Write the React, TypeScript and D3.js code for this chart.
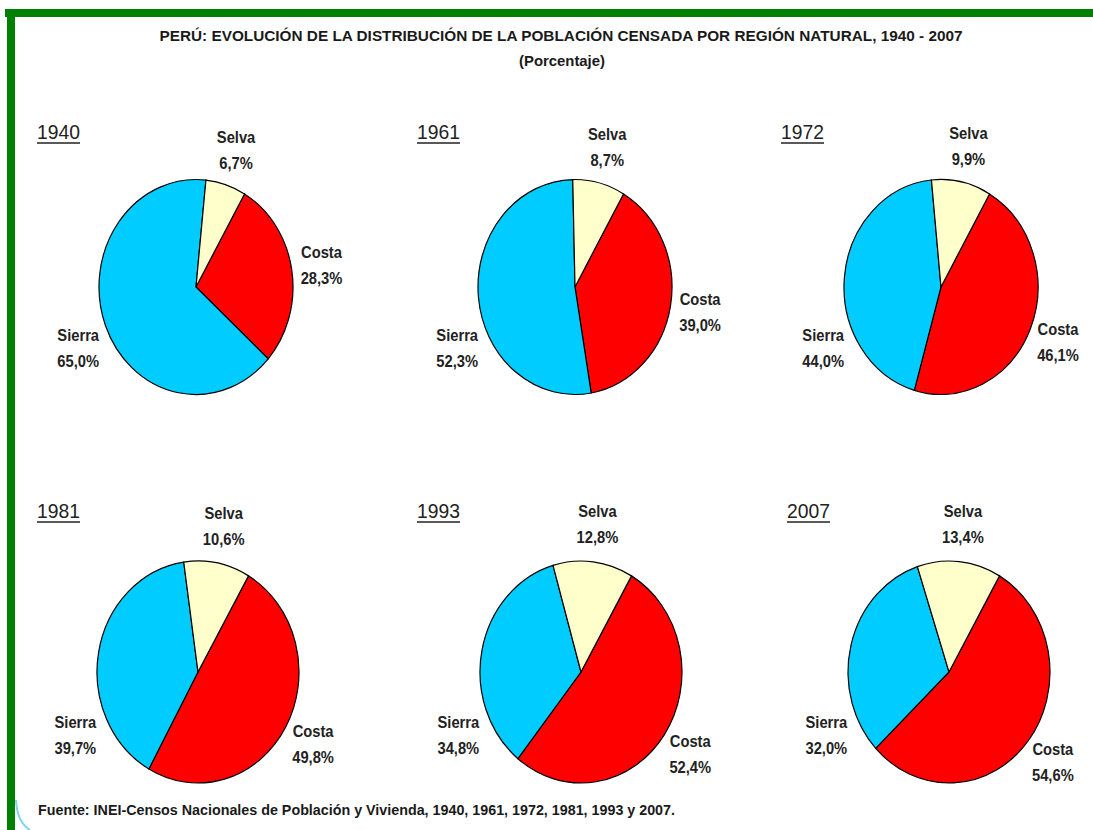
import React, { useEffect, useRef } from 'react';
import * as d3 from 'd3';

// census years and regional shares (%)
const years = ['1940', '1961', '1972', '1981', '1993', '2007'];
const regions = ['Costa', 'Sierra', 'Selva'];
const costa = [28.3, 39.0, 46.1, 49.8, 52.4, 54.6];
const sierra = [65.0, 52.3, 44.0, 39.7, 34.8, 32.0];
const selva = [6.7, 8.7, 9.9, 10.6, 12.8, 13.4];

const colors: Record<string, string> = { Costa: '#ff0000', Sierra: '#00ccff', Selva: '#ffffcc' };

const W = 1093;
const H = 830;
const FONT = "'Liberation Sans Narrow', 'Arial Narrow', 'Liberation Sans', Arial, sans-serif";

export default function App() {
  const ref = useRef<SVGSVGElement>(null);

  useEffect(() => {
    const svg = d3.select(ref.current);
    svg.selectAll('*').remove();

    svg.append('rect').attr('width', W).attr('height', H).attr('fill', '#fff');

    // green frame
    svg.append('rect').attr('x', 5).attr('y', 9).attr('width', W - 5).attr('height', 8).attr('fill', '#008000');
    svg.append('rect').attr('x', 7).attr('y', 9).attr('width', 8).attr('height', H - 9).attr('fill', '#008000');
    svg.append('path')
      .attr('d', 'M16,800 Q17,822 30,830')
      .attr('fill', 'none').attr('stroke', '#7fd3ee').attr('stroke-width', 2);

    svg.append('text')
      .attr('x', 561).attr('y', 41)
      .attr('text-anchor', 'middle')
      .attr('font-family', FONT).attr('font-weight', 'bold').attr('font-size', 14)
      .attr('fill', '#1a1a1a')
      .attr('textLength', 803).attr('lengthAdjust', 'spacingAndGlyphs')
      .text('PERÚ: EVOLUCIÓN DE LA DISTRIBUCIÓN DE LA POBLACIÓN CENSADA POR REGIÓN NATURAL, 1940 - 2007');
    svg.append('text')
      .attr('x', 562).attr('y', 66)
      .attr('text-anchor', 'middle')
      .attr('font-family', FONT).attr('font-weight', 'bold').attr('font-size', 14)
      .attr('fill', '#1a1a1a')
      .attr('textLength', 86).attr('lengthAdjust', 'spacingAndGlyphs')
      .text('(Porcentaje)');

    svg.append('text')
      .attr('x', 38).attr('y', 815)
      .attr('font-family', FONT).attr('font-weight', 'bold').attr('font-size', 14)
      .attr('fill', '#1a1a1a')
      .attr('textLength', 637).attr('lengthAdjust', 'spacingAndGlyphs')
      .text('Fuente: INEI-Censos Nacionales de Población y Vivienda, 1940, 1961, 1972, 1981, 1993  y 2007.');

    // panel layout
    const centersX = [[196, 575, 941], [198, 581, 949]];
    const centersY = [287, 672];
    const radX = [97, 101];
    const radY = [107.5, 111];
    const yearX = [[37, 417, 781], [37, 417, 787]];
    const yearY = [139, 518];

    const pie = d3.pie<{ name: string; v: number }>()
      .sort(null)
      .value(d => d.v)
      .startAngle(Math.PI / 6)
      .endAngle(Math.PI / 6 + 2 * Math.PI);

    const fmt = (v: number) => v.toFixed(1).replace('.', ',') + '%';

    years.forEach((yr, i) => {
      const row = Math.floor(i / 3);
      const col = i % 3;
      const cx = centersX[row][col];
      const cy = centersY[row];
      const rx = radX[row];
      const ry = radY[row];

      const vals = [costa[i], sierra[i], selva[i]];
      const data = regions.map((name, k) => ({ name, v: vals[k] }));
      const arcs = pie(data);

      const arc = d3.arc<d3.PieArcDatum<{ name: string; v: number }>>()
        .innerRadius(0).outerRadius(rx);

      const g = svg.append('g').attr('transform', `translate(${cx},${cy}) scale(1,${ry / rx})`);
      g.selectAll('path').data(arcs).join('path')
        .attr('d', arc)
        .attr('fill', d => colors[d.data.name])
        .attr('stroke', '#000')
        .attr('stroke-width', 1.2)
        .attr('vector-effect', 'non-scaling-stroke');

      // year header
      svg.append('text')
        .attr('x', yearX[row][col]).attr('y', yearY[row])
        .attr('font-family', FONT).attr('font-size', 21)
        .attr('textLength', 43).attr('lengthAdjust', 'spacingAndGlyphs')
        .attr('fill', '#222')
        .text(yr);
      svg.append('line')
        .attr('x1', yearX[row][col]).attr('x2', yearX[row][col] + 43)
        .attr('y1', yearY[row] + 4).attr('y2', yearY[row] + 4)
        .attr('stroke', '#222').attr('stroke-width', 1.5);

      // labels
      arcs.forEach(a => {
        let ang = (a.startAngle + a.endAngle) / 2;
        let f = 1.31;
        if (a.data.name === 'Sierra') {
          ang = Math.min(ang, (245 * Math.PI) / 180);
          f = 1.34;
        } else if (a.data.name === 'Selva') {
          f = 1.34;
        }
        const lx = cx + rx * f * Math.sin(ang);
        const ly = cy - ry * f * Math.cos(ang);
        const t = svg.append('text')
          .attr('transform', `translate(${lx},${ly}) scale(0.92,1)`)
          .attr('text-anchor', 'middle')
          .attr('font-family', FONT).attr('font-weight', 'bold').attr('font-size', 16)
          .attr('fill', '#222');
        t.append('tspan').attr('x', 0).attr('y', -7).text(a.data.name);
        t.append('tspan').attr('x', 0).attr('y', 19).text(fmt(a.data.v));
      });
    });
  }, []);

  return (
    <svg
      ref={ref}
      width={W}
      height={H}
      style={{ position: 'absolute', left: 0, top: 0, display: 'block' }}
    />
  );
}
